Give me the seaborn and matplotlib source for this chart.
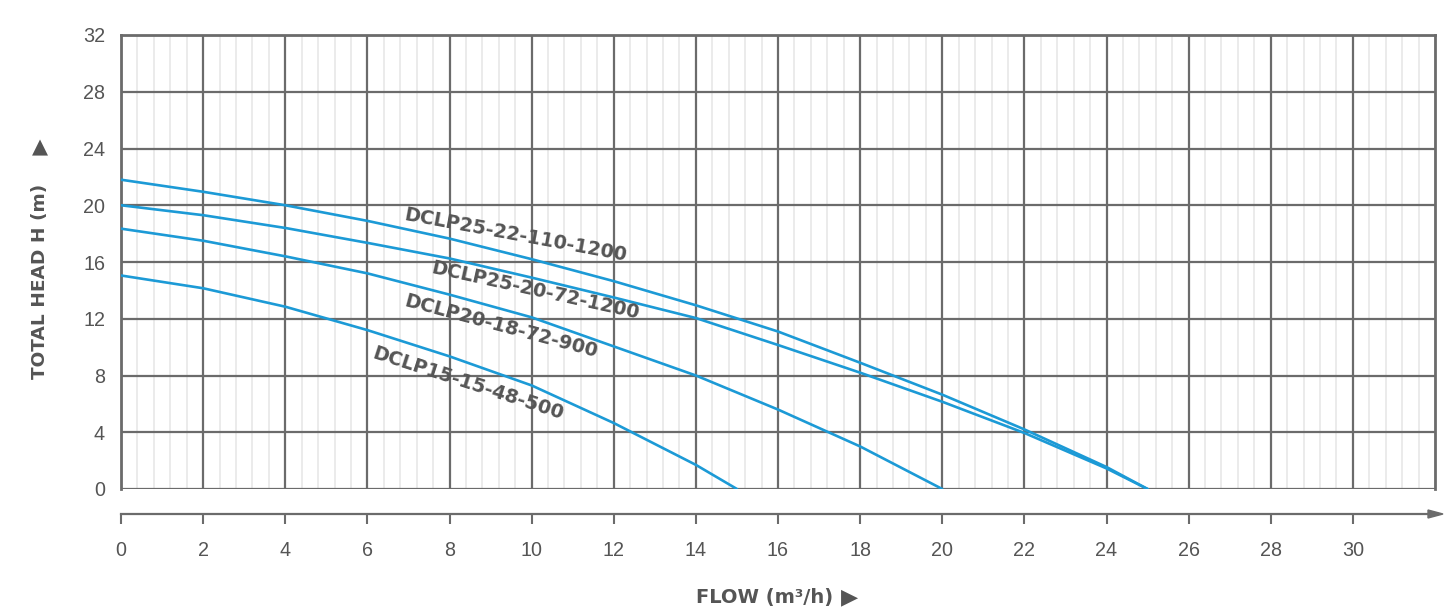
import numpy as np
import pandas as pd
import matplotlib
matplotlib.use("Agg")
import matplotlib.pyplot as plt
from matplotlib.ticker import MultipleLocator
from matplotlib.patches import Polygon
import seaborn as sns

# ---------------- data ----------------
models = ["DCLP25-22-110-1200", "DCLP25-20-72-1200",
          "DCLP20-18-72-900", "DCLP15-15-48-500"]

flow_a = [0, 2, 4, 6, 8, 10, 12, 14, 16, 18, 20, 22, 24, 25]
head_a = [21.8, 20.95, 20.0, 18.9, 17.65, 16.2, 14.65, 12.95, 11.1, 8.9, 6.65, 4.2, 1.55, 0]

flow_b = [0, 2, 4, 6, 8, 10, 12, 14, 16, 18, 20, 22, 24, 25]
head_b = [20.0, 19.3, 18.4, 17.35, 16.25, 14.9, 13.5, 12.05, 10.15, 8.2, 6.15, 3.95, 1.45, 0]

flow_c = [0, 2, 4, 6, 8, 10, 12, 14, 16, 18, 20]
head_c = [18.35, 17.5, 16.4, 15.2, 13.7, 12.1, 10.05, 8.0, 5.6, 3.0, 0]

flow_d = [0, 2, 4, 6, 8, 10, 12, 14, 15]
head_d = [15.05, 14.15, 12.85, 11.2, 9.35, 7.3, 4.65, 1.7, 0]

x_ticks = [0, 2, 4, 6, 8, 10, 12, 14, 16, 18, 20, 22, 24, 26, 28, 30]
y_ticks = [0, 4, 8, 12, 16, 20, 24, 28, 32]

# label placement (positions / rotations)
label_x = [9.6, 10.08, 9.25, 8.45]
label_y = [17.9, 14.0, 11.45, 7.45]
label_rot = [-10.5, -12.5, -15, -18]

# ---------------- frame ----------------
frames = []
for name, fl, hd in zip(models, [flow_a, flow_b, flow_c, flow_d],
                        [head_a, head_b, head_c, head_d]):
    frames.append(pd.DataFrame({"flow": fl, "head": hd, "model": name}))
df = pd.concat(frames, ignore_index=True)

sns.set_style("white")
plt.rcParams["font.family"] = ["Liberation Sans", "DejaVu Sans"]

W, H = 1450, 610
fig = plt.figure(figsize=(W / 100, H / 100), dpi=100)
ax = fig.add_axes([121 / W, 1 - 489 / H, (1435 - 121) / W, (489 - 35) / H])

line_col = "#1c9ad6"
grid_col = "#6b6b6b"
minor_col = "#e6e6e6"
text_col = "#555555"

sns.lineplot(data=df, x="flow", y="head", hue="model", estimator=None,
             sort=False, palette=[line_col] * 4, legend=False,
             linewidth=1.9, ax=ax, zorder=5)

ax.set_xlim(0, 32)
ax.set_ylim(0, 32)
ax.set_xticks(x_ticks)
ax.set_yticks(y_ticks)
ax.xaxis.set_minor_locator(MultipleLocator(0.4))

ax.set_axisbelow(True)
ax.grid(which="minor", axis="x", color=minor_col, linewidth=1.1)
ax.grid(which="major", axis="both", color=grid_col, linewidth=1.6)

ax.tick_params(axis="x", which="major", bottom=True, direction="out",
               length=7.2, width=1.5, color=grid_col, labelsize=14.2,
               labelcolor=text_col, pad=12)
ax.tick_params(axis="x", which="minor", bottom=False, length=0)
ax.tick_params(axis="y", which="both", left=False, length=0, labelsize=14.2,
               labelcolor=text_col, pad=11.5)

for side in ["top", "right", "left"]:
    ax.spines[side].set_color(grid_col)
    ax.spines[side].set_linewidth(2.0)
ax.spines["bottom"].set_position(("outward", 18))
ax.spines["bottom"].set_color(grid_col)
ax.spines["bottom"].set_linewidth(1.6)

ax.set_xlabel("")
ax.set_ylabel("")

# arrow head at end of flow axis
ya = 1 - 514 / H
arrow = Polygon([[1428 / W, ya + 4 / H], [1443 / W, ya], [1428 / W, ya - 4 / H]],
                closed=True, transform=fig.transFigure, color=grid_col,
                clip_on=False)
fig.add_artist(arrow)

# curve labels
for name, lx, ly, rot in zip(models, label_x, label_y, label_rot):
    ax.text(lx, ly, name, rotation=rot, rotation_mode="anchor",
            ha="center", va="center", fontsize=13.8, fontweight="bold",
            color=text_col, family=["DejaVu Sans"], zorder=6)

# axis titles
fig.text(40 / W, 1 - 281 / H, "TOTAL HEAD H (m)", rotation=90,
         ha="center", va="center", fontsize=13.3, fontweight="bold",
         color=text_col, family=["DejaVu Sans"])
fig.text(40 / W, 1 - 147 / H, "▲", ha="center", va="center",
         fontsize=15, color=text_col, family=["DejaVu Sans"])
fig.text(765 / W, 1 - 597 / H, "FLOW (m³/h)", ha="center", va="center",
         fontsize=14, fontweight="bold", color=text_col, family=["DejaVu Sans"])
fig.text(850 / W, 1 - 597 / H, "▶", ha="center", va="center",
         fontsize=16, color=text_col, family=["DejaVu Sans"])

fig.savefig("out.png", dpi=100)
